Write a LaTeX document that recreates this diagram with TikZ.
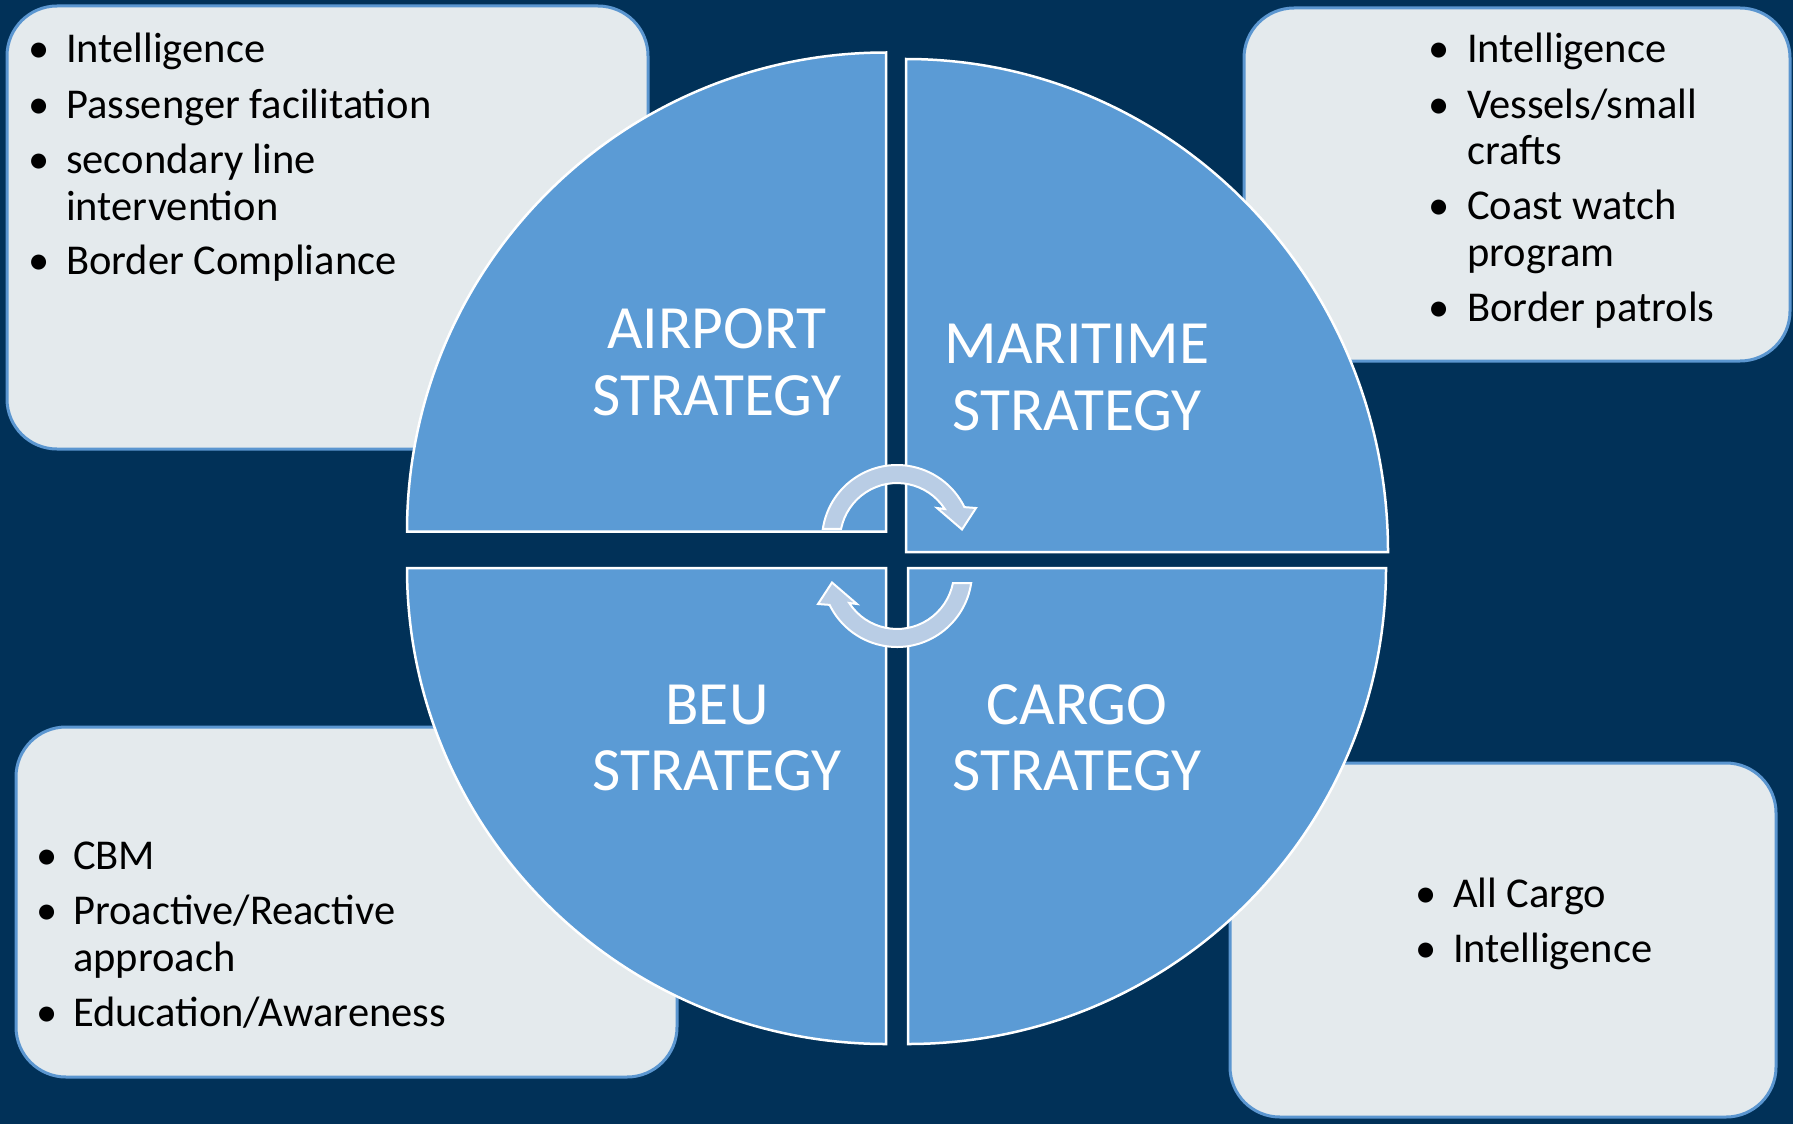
\documentclass[tikz,border=0pt]{standalone}
\usepackage{fontspec}
\setmainfont{Carlito}
\definecolor{bg}{RGB}{1,49,88}
\definecolor{quad}{RGB}{91,155,213}
\definecolor{arr}{RGB}{185,205,229}
\definecolor{boxfill}{RGB}{228,234,237}
\definecolor{boxline}{RGB}{91,150,208}
\begin{document}
\begin{tikzpicture}[x=1pt,y=-1pt,
  infobox/.style={fill=boxfill, draw=boxline, line width=3pt, rounded corners=50pt},
  quadrant/.style={fill=quad, draw=white, line width=2.5pt},
  turnarrow/.style={fill=arr, draw=white, line width=2pt, line join=miter},
  lbl/.style={text=white, font=\fontsize{61.5}{66}\selectfont, inner sep=0pt, anchor=base},
  itm/.style={text=black, font=\fontsize{42.5}{47}\selectfont, inner sep=0pt, anchor=base west},
  bul/.style={text=black, font=\fontsize{42.5}{47}\selectfont, inner sep=0pt, anchor=base},
]
\fill[bg] (0,0) rectangle (1793,1124);
\useasboundingbox (0,0) rectangle (1793,1124);

% information boxes
\draw[infobox] (7,6) rectangle (648,449);
\draw[infobox] (1244,8) rectangle (1790,361);
\draw[infobox] (16,727) rectangle (677,1077);
\draw[infobox] (1230,763) rectangle (1776,1117);

% quadrants
\draw[quadrant] (886,531.5) -- (407,531.5) arc[start angle=180, end angle=270, x radius=479, y radius=479] -- cycle;
\draw[quadrant] (906,552) -- (906,59) arc[start angle=270, end angle=360, x radius=482, y radius=493] -- cycle;
\draw[quadrant] (908,568) -- (1386,568) arc[start angle=0, end angle=90, x radius=478, y radius=476] -- cycle;
\draw[quadrant] (886,568) -- (886,1044) arc[start angle=90, end angle=180, x radius=479, y radius=476] -- cycle;

% circular arrows
\coordinate (c1) at (897,540);
\draw[turnarrow] (c1) ++(188.5:75) arc[start angle=188.5, end angle=334, radius=75]
  -- (976,508) -- (962,529.5) -- (937,508) -- (944.8,509)
  arc[start angle=327, end angle=191.3, radius=57] -- cycle;
\begin{scope}[rotate around={180:(897,556)}]
\coordinate (c2) at (897,540);
\draw[turnarrow] (c2) ++(188.5:75) arc[start angle=188.5, end angle=334, radius=75]
  -- (976,508) -- (962,529.5) -- (937,508) -- (944.8,509)
  arc[start angle=327, end angle=191.3, radius=57] -- cycle;
\end{scope}

% quadrant labels
\node[lbl] (air1) at (717,348) {AIRPORT};
\node[lbl] (air2) at (717,415) {STRATEGY};
\node[lbl] (mar1) at (1077,363) {MARITIME};
\node[lbl] (mar2) at (1077,430) {STRATEGY};
\node[lbl] (beu1) at (717,724) {BEU};
\node[lbl] (beu2) at (717,790) {STRATEGY};
\node[lbl] (car1) at (1077,724) {CARGO};
\node[lbl] (car2) at (1077,790) {STRATEGY};

% top-left list
\node[bul] (tlb1) at (39,63) {•};
\node[itm] (tlt1) at (66,63) {Intelligence};
\node[bul] (tlb2) at (39,118) {•};
\node[itm] (tlt2) at (66,118) {Passenger facilitation};
\node[bul] (tlb3) at (39,173) {•};
\node[itm] (tlt3) at (66,173) {secondary line};
\node[itm] (tlt3b) at (66,220) {intervention};
\node[bul] (tlb4) at (39,274) {•};
\node[itm] (tlt4) at (66,274) {Border Compliance};

% top-right list
\node[bul] (trb1) at (1439,63) {•};
\node[itm] (trt1) at (1467,63) {Intelligence};
\node[bul] (trb2) at (1439,118) {•};
\node[itm] (trt2) at (1467,118) {Vessels/small};
\node[itm] (trt2b) at (1467,164) {crafts};
\node[bul] (trb3) at (1439,219) {•};
\node[itm] (trt3) at (1467,219) {Coast watch};
\node[itm] (trt3b) at (1467,266) {program};
\node[bul] (trb4) at (1439,321) {•};
\node[itm] (trt4) at (1467,321) {Border patrols};

% bottom-left list
\node[bul] (blb1) at (47,869) {•};
\node[itm] (blt1) at (73,869) {CBM};
\node[bul] (blb2) at (47,924) {•};
\node[itm] (blt2) at (73,924) {Proactive/Reactive};
\node[itm] (blt2b) at (73,971) {approach};
\node[bul] (blb3) at (47,1026) {•};
\node[itm] (blt3) at (73,1026) {Education/Awareness};

% bottom-right list
\node[bul] (brb1) at (1426,907) {•};
\node[itm] (brt1) at (1453,907) {All Cargo};
\node[bul] (brb2) at (1426,962) {•};
\node[itm] (brt2) at (1453,962) {Intelligence};
\end{tikzpicture}
\end{document}
